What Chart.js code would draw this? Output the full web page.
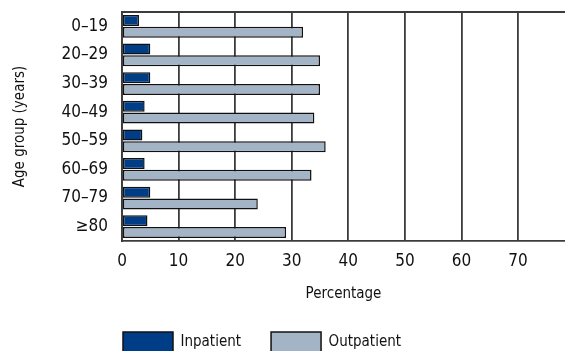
<!DOCTYPE html>
<html>
<head>
<meta charset="utf-8">
<script src="https://cdn.jsdelivr.net/npm/chart.js@4"></script>
<style>
  body { margin: 0; background: #fff; }
</style>
</head>
<body>
<canvas id="ageChart" width="565" height="351"></canvas>
<script>
const ageGroups = ["0–19", "20–29", "30–39", "40–49", "50–59", "60–69", "70–79", "≥80"];
const inpatient = [3, 5, 5, 4, 3.6, 4, 5, 4.5];
const outpatient = [32, 35, 35, 34, 36, 33.5, 24, 29];

const fontFamily = "'Liberation Sans Narrow', 'DejaVu Sans Condensed', sans-serif";
const gridColor = "#3c3c3c";

// line along the top of the plot
const topBorder = {
  id: "topBorder",
  afterDraw(chart) {
    const { ctx, chartArea } = chart;
    ctx.save();
    ctx.strokeStyle = gridColor;
    ctx.lineWidth = 1.8;
    ctx.beginPath();
    ctx.moveTo(chartArea.left, chartArea.top);
    ctx.lineTo(chartArea.right, chartArea.top);
    ctx.stroke();
    ctx.restore();
  }
};

// move the legend so it starts under the y axis
const legendShift = {
  id: "legendShift",
  afterLayout(chart) {
    const lg = chart.legend;
    const dx = -29;
    lg.left += dx;
    lg.right += dx;
  }
};

new Chart(document.getElementById("ageChart"), {
  type: "bar",
  data: {
    labels: ageGroups,
    datasets: [{
      label: "Inpatient",
      data: inpatient,
      backgroundColor: "#003d87",
      borderColor: "#111",
      borderWidth: 1.5,
      borderSkipped: false,
      categoryPercentage: 0.82,
      barPercentage: 0.94
    }, {
      label: "Outpatient",
      data: outpatient,
      backgroundColor: "#a3b4c7",
      borderColor: "#111",
      borderWidth: 1.5,
      borderSkipped: false,
      categoryPercentage: 0.82,
      barPercentage: 0.94
    }]
  },
  options: {
    indexAxis: "y",
    responsive: false,
    animation: false,
    layout: { padding: { top: 12, right: 0, left: 0, bottom: 0 } },
    plugins: {
      tooltip: { enabled: false },
      legend: {
        position: "bottom",
        align: "start",
        fullSize: false,
        maxHeight: 49,
        labels: {
          boxWidth: 50,
          boxHeight: 20,
          padding: 30,
          color: "#111",
          font: { family: fontFamily, size: 15 }
        }
      }
    },
    scales: {
      x: {
        min: 0,
        max: 78.3,
        afterFit(scale) { scale.height = 61; },
        ticks: {
          stepSize: 10,
          includeBounds: false,
          padding: 10,
          color: "#111",
          font: { family: fontFamily, size: 17 }
        },
        grid: { color: gridColor, lineWidth: 1.8, drawTicks: false },
        border: { display: true, color: gridColor, width: 1.8 },
        title: {
          display: true,
          text: "Percentage",
          color: "#111",
          padding: { top: 0, bottom: 0 },
          font: { family: fontFamily, size: 15, lineHeight: 1 }
        }
      },
      y: {
        afterFit(scale) {
          scale.width = 122;
          scale.paddingTop = 0;
          scale.paddingBottom = 0;
        },
        ticks: {
          padding: 14,
          color: "#111",
          font: { family: fontFamily, size: 17 }
        },
        grid: { display: false, drawTicks: false },
        border: { display: true, color: gridColor, width: 1.8 },
        title: {
          display: true,
          text: "Age group (years)",
          color: "#111",
          padding: { top: 11, bottom: 0 },
          font: { family: fontFamily, size: 15 }
        }
      }
    }
  },
  plugins: [topBorder, legendShift]
});
</script>
</body>
</html>
